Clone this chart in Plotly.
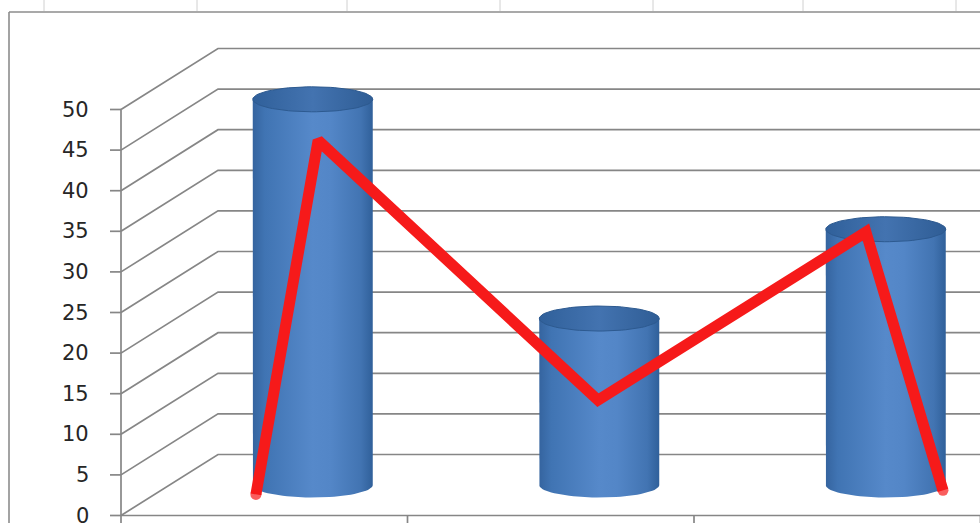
import numpy as np
import plotly.graph_objects as go

# ---------------- data ----------------
categories = ["1", "2", "3"]
cylinder_values = [47.5, 20.5, 31.5]
tick_values = [0, 5, 10, 15, 20, 25, 30, 35, 40, 45, 50]
tick_labels = [str(v) for v in tick_values]
# red overlay line (x in category units, y in value units)
line_x = [0.471, 0.688, 1.665, 2.600, 2.869]
line_y = [2.6, 46.2, 14.2, 34.9, 3.1]

# ---------------- style / geometry constants ----------------
W, H = 980, 523
PX_PER_CAT = 286.5
PX_PER_VAL = 8.12
X0_PX, Y0_PX = 121, 515.5
X_RANGE = [-X0_PX / PX_PER_CAT, (W - X0_PX) / PX_PER_CAT]
Y_RANGE = [-(H - Y0_PX) / PX_PER_VAL, Y0_PX / PX_PER_VAL]
DEPTH_X = 97 / PX_PER_CAT
DEPTH_Y = 61 / PX_PER_VAL
CYL_W = 120 / PX_PER_CAT
CYL_RY = 12.5 / PX_PER_VAL
TICK_LEN = 11 / PX_PER_CAT
XMAX = X_RANGE[1] + 0.05
GRID_COLOR = "#868686"

fig = go.Figure()

# ---- back wall / floor grid lines ----
gx, gy = [], []
for v in tick_values:
    gx += [0, DEPTH_X, XMAX, None]
    gy += [v, v + DEPTH_Y, v + DEPTH_Y, None]
    gx += [-TICK_LEN, 0, None]
    gy += [v, v, None]
gx += [0, XMAX, None, 0, 0, None]
gy += [0, 0, None, tick_values[0], tick_values[-1], None]
for i in range(len(categories) + 1):
    gx += [i, i, None]
    gy += [0, -1.2, None]
fig.add_trace(go.Scatter(x=gx, y=gy, mode="lines",
                         line=dict(color=GRID_COLOR, width=1.7),
                         hoverinfo="skip"))

# ---- cylinders ----
body_scale = [[0, "#35649f"], [0.1, "#4074b3"], [0.5, "#5689ca"],
              [0.65, "#5386c7"], [0.9, "#4274b2"], [1, "#30609a"]]
top_scale = [[0, "#30609a"], [0.5, "#4373b0"], [1, "#2f5d95"]]
t_bot = np.linspace(np.pi, 2 * np.pi, 40)
t_all = np.linspace(0, 2 * np.pi, 80)
rx = CYL_W / 2
for i, v in enumerate(cylinder_values):
    cx = i + 0.5 + DEPTH_X / 2
    base = DEPTH_Y / 2
    top = v + DEPTH_Y / 2
    bx = [cx - rx] + list(cx + rx * np.cos(t_bot)) + [cx + rx, cx - rx]
    by = [top] + list(base + CYL_RY * np.sin(t_bot)) + [top, top]
    fig.add_trace(go.Scatter(x=bx, y=by, mode="lines", fill="toself",
                             line=dict(width=0, color="rgba(0,0,0,0)"),
                             fillgradient=dict(type="horizontal", colorscale=body_scale),
                             hoverinfo="skip"))
    ex = list(cx + rx * np.cos(t_all))
    ey = list(top + CYL_RY * np.sin(t_all))
    fig.add_trace(go.Scatter(x=ex, y=ey, mode="lines", fill="toself",
                             line=dict(width=1, color="#2d5a90"),
                             fillgradient=dict(type="horizontal", colorscale=top_scale),
                             hoverinfo="skip"))

# ---- red overlay line ----
fig.add_trace(go.Scatter(x=line_x, y=line_y, mode="lines+markers",
                         line=dict(color="#f61a1a", width=11),
                         marker=dict(color="#f61a1a", size=[11, 0, 0, 0, 11],
                                     line=dict(width=0)),
                         hoverinfo="skip"))

# ---- tick labels ----
for v, lab in zip(tick_values, tick_labels):
    fig.add_annotation(x=-30 / PX_PER_CAT, y=v, text=lab, showarrow=False,
                       xanchor="right", yanchor="middle",
                       font=dict(family="DejaVu Sans", size=21, color="#262626"))

# ---- chart border and spreadsheet cell lines ----
shapes = [
    dict(type="line", xref="paper", yref="paper", x0=9 / W, x1=1.01,
         y0=1 - 12 / H, y1=1 - 12 / H, line=dict(color="#8c8c8c", width=1.6)),
    dict(type="line", xref="paper", yref="paper", x0=9 / W, x1=9 / W,
         y0=-0.01, y1=1 - 12 / H, line=dict(color="#8c8c8c", width=1.6)),
]
for px in [44, 197, 347, 500, 653, 803, 956]:
    shapes.append(dict(type="line", xref="paper", yref="paper",
                       x0=px / W, x1=px / W, y0=1 - 11 / H, y1=1.01,
                       line=dict(color="#d0d0d0", width=1)))

fig.update_layout(
    width=W, height=H, margin=dict(l=0, r=0, t=0, b=0),
    paper_bgcolor="white", plot_bgcolor="white",
    showlegend=False, hovermode=False, shapes=shapes,
    xaxis=dict(range=X_RANGE, visible=False, fixedrange=True),
    yaxis=dict(range=Y_RANGE, visible=False, fixedrange=True),
)
fig.write_html("out.html")
